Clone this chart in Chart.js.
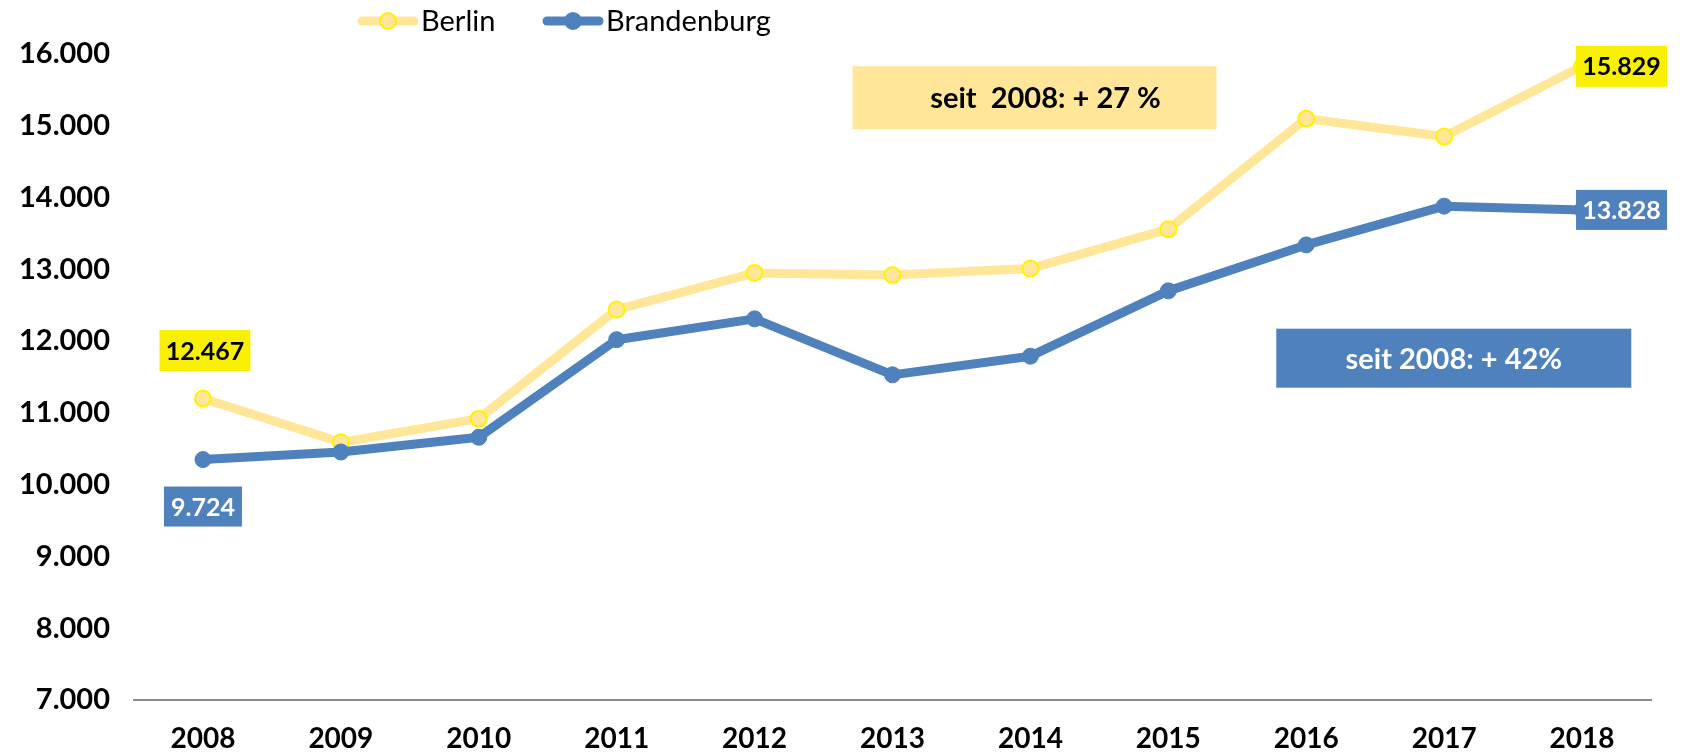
<!DOCTYPE html>
<html>
<head>
<meta charset="utf-8">
<script src="https://cdn.jsdelivr.net/npm/chart.js@4.4.1/dist/chart.umd.min.js"></script>
<style>
  html, body { margin: 0; padding: 0; background: #ffffff; }
  #wrap { width: 1684px; height: 755px; position: relative; }
</style>
</head>
<body>
<div id="wrap"><canvas id="c" width="1684" height="755"></canvas></div>
<script>
// ---- data ----
const years = ['2008', '2009', '2010', '2011', '2012', '2013', '2014', '2015', '2016', '2017', '2018'];
const berlin = [11200, 10590, 10920, 12440, 12950, 12920, 13010, 13560, 15100, 14850, 15829];
const brandenburg = [10350, 10455, 10660, 12020, 12310, 11530, 11790, 12700, 13340, 13880, 13828];
const berlinLabels = ['12.467', null, null, null, null, null, null, null, null, null, '15.829'];
const brandenburgLabels = ['9.724', null, null, null, null, null, null, null, null, null, '13.828'];
const seriesNames = ['Berlin', 'Brandenburg'];
const yTicks = [7000, 8000, 9000, 10000, 11000, 12000, 13000, 14000, 15000, 16000];
const notes = ['seit  2008: + 27 %', 'seit 2008: + 42%'];

// ---- styles ----
const YELLOW_LINE = '#FFE699';
const YELLOW_EDGE = '#FFF200';
const YELLOW_LABEL = '#F8F000';
const BLUE = '#4F81BD';

function fmt(v) {
  return String(v).replace(/\B(?=(\d{3})+(?!\d))/g, '.');
}

const overlay = {
  id: 'overlay',
  afterDatasetsDraw(chart) {
    const ctx = chart.ctx;
    const xs = chart.scales.x, ys = chart.scales.y;
    ctx.save();
    // data label boxes
    function box(cx, cy, w, h, bg, fg, text, alignLeft) {
      const x0 = alignLeft ? cx : cx - w / 2;
      ctx.fillStyle = bg;
      ctx.fillRect(x0, cy - h / 2, w, h);
      ctx.fillStyle = fg;
      ctx.font = 'bold 25px Lato';
      ctx.textAlign = 'center';
      ctx.textBaseline = 'middle';
      ctx.fillText(text, x0 + w / 2, cy + 1);
    }
    const m0 = chart.getDatasetMeta(1); // Berlin
    const m1 = chart.getDatasetMeta(0); // Brandenburg
    berlinLabels.forEach((t, i) => {
      if (!t) return;
      const p = m0.data[i];
      if (i === years.length - 1) box(p.x - 6, p.y, 91, 41, YELLOW_LABEL, '#000', t, true);
      else box(p.x + 2, p.y - 48, 91, 41, YELLOW_LABEL, '#000', t, false);
    });
    brandenburgLabels.forEach((t, i) => {
      if (!t) return;
      const p = m1.data[i];
      if (i === years.length - 1) box(p.x - 6, p.y, 91, 40, BLUE, '#fff', t, true);
      else box(p.x, p.y + 47, 78, 40, BLUE, '#fff', t, false);
    });
    // annotation boxes
    ctx.font = 'bold 29px Lato';
    ctx.textAlign = 'center';
    ctx.textBaseline = 'middle';
    let cx = xs.getPixelForValue(6.03), cy = ys.getPixelForValue(15390);
    ctx.fillStyle = YELLOW_LINE;
    ctx.fillRect(cx - 182, cy - 31.5, 364, 63);
    ctx.fillStyle = '#000';
    ctx.fillText(notes[0], cx + 11, cy + 1);
    cx = xs.getPixelForValue(9.07); cy = ys.getPixelForValue(11762);
    ctx.fillStyle = BLUE;
    ctx.fillRect(cx - 177.5, cy - 29.5, 355, 59);
    ctx.fillStyle = '#fff';
    ctx.fillText(notes[1], cx, cy + 1);

    // legend
    function legendItem(x0, label, lineColor, fill, edge) {
      const y = 21;
      ctx.strokeStyle = lineColor;
      ctx.lineWidth = 9;
      ctx.lineCap = 'round';
      ctx.beginPath();
      ctx.moveTo(x0 + 4, y); ctx.lineTo(x0 + 56, y);
      ctx.stroke();
      ctx.beginPath();
      ctx.arc(x0 + 30, y, 8, 0, Math.PI * 2);
      ctx.fillStyle = fill; ctx.fill();
      ctx.lineWidth = 2; ctx.strokeStyle = edge; ctx.stroke();
      ctx.fillStyle = '#000';
      ctx.font = '29px Lato';
      ctx.textAlign = 'left';
      ctx.textBaseline = 'middle';
      ctx.fillText(label, x0 + 63, y + 1);
    }
    legendItem(358, seriesNames[0], YELLOW_LINE, YELLOW_LINE, YELLOW_EDGE);
    legendItem(543, seriesNames[1], BLUE, BLUE, BLUE);
    ctx.restore();
  }
};

new Chart(document.getElementById('c'), {
  type: 'line',
  data: {
    labels: years,
    datasets: [
      {
        label: seriesNames[1],
        data: brandenburg,
        borderColor: BLUE,
        backgroundColor: BLUE,
        borderWidth: 9,
        pointRadius: 8,
        pointBackgroundColor: BLUE,
        pointBorderColor: BLUE,
        pointBorderWidth: 1,
        tension: 0,
        borderJoinStyle: 'round',
        borderCapStyle: 'round',
        order: 0
      },
      {
        label: seriesNames[0],
        data: berlin,
        borderColor: YELLOW_LINE,
        backgroundColor: YELLOW_LINE,
        borderWidth: 9,
        pointRadius: 8,
        pointBackgroundColor: YELLOW_LINE,
        pointBorderColor: YELLOW_EDGE,
        pointBorderWidth: 2,
        tension: 0,
        borderJoinStyle: 'round',
        borderCapStyle: 'round',
        order: 1
      }
    ]
  },
  options: {
    responsive: false,
    animation: false,
    layout: { padding: { top: 54, right: 33, bottom: 0, left: 0 } },
    plugins: { legend: { display: false }, tooltip: { enabled: false } },
    scales: {
      x: {
        offset: true,
        grid: { display: false, drawTicks: false },
        border: { display: true, color: '#898989', width: 2 },
        ticks: { color: '#000', font: { family: 'Lato', weight: 'bold', size: 28 }, padding: 22, maxRotation: 0 },
        afterFit(s) { s.height = 55; }
      },
      y: {
        min: yTicks[0],
        max: yTicks[yTicks.length - 1],
        grid: { display: false, drawTicks: false },
        border: { display: false },
        afterBuildTicks(s) { s.ticks = yTicks.map(v => ({ value: v })); },
        ticks: {
          color: '#000',
          font: { family: 'Lato', weight: 'bold', size: 29 },
          padding: 24,
          callback: v => fmt(v)
        },
        afterFit(s) { s.width = 134; }
      }
    }
  },
  plugins: [overlay]
});
</script>
</body>
</html>
